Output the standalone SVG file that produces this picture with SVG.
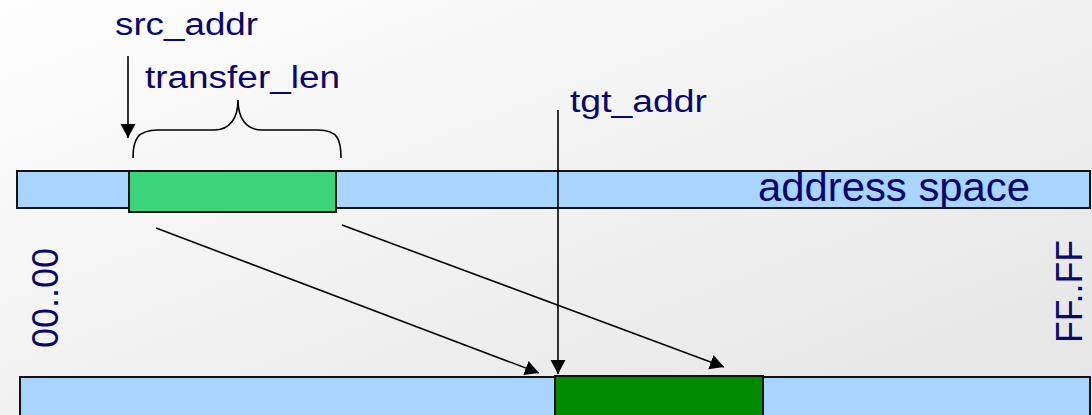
<svg xmlns="http://www.w3.org/2000/svg" width="1092" height="415" viewBox="0 0 1092 415">
  <style>
    .lbl { font-family: "Liberation Sans", Arial, sans-serif; fill: #07076e; }
    .bar { fill: #a8d4fd; stroke: #111; stroke-width: 2; }
    .line { stroke: #000; stroke-width: 1.6; fill: none; }
  </style>
  <defs>
    <linearGradient id="bg" x1="0" y1="0" x2="1" y2="1">
      <stop offset="0" stop-color="#fefefe"/>
      <stop offset="1" stop-color="#e4e4e4"/>
    </linearGradient>
    <marker id="head" markerUnits="userSpaceOnUse" markerWidth="16" markerHeight="16" refX="14" refY="7.5" orient="auto">
      <path d="M0,0 L14,7.5 L0,15 z" fill="#000"/>
    </marker>
  </defs>

  <rect x="0" y="0" width="1092" height="415" fill="url(#bg)"/>

  <!-- source address space -->
  <g id="src-space">
    <rect class="bar" x="17" y="171" width="1073" height="37"/>
    <text class="lbl" x="758" y="201" font-size="40" textLength="272" lengthAdjust="spacingAndGlyphs">address space</text>
  </g>
  <g id="src-block">
    <rect x="129" y="171" width="207" height="41" fill="#3bd47a" stroke="#111" stroke-width="2"/>
  </g>

  <!-- target address space -->
  <g id="tgt-space">
    <rect class="bar" x="20" y="377" width="1070" height="60"/>
  </g>
  <g id="tgt-block">
    <rect x="555" y="376" width="208" height="60" fill="#008a00" stroke="#111" stroke-width="2"/>
  </g>

  <!-- labels -->
  <g id="src-addr-label">
    <text class="lbl" x="115" y="35" font-size="31" textLength="143" lengthAdjust="spacingAndGlyphs">src_addr</text>
  </g>
  <g id="transfer-len-label">
    <text class="lbl" x="145" y="88" font-size="31" textLength="195" lengthAdjust="spacingAndGlyphs">transfer_len</text>
    <path class="line" d="M133,158 C133,140 137,130 158,130 L214,130 C230,130 238,118 238,100 C238,118 246,130 262,130 L318,130 C338,130 341,140 341,158"/>
  </g>
  <g id="tgt-addr-label">
    <text class="lbl" x="570" y="112" font-size="31" textLength="137" lengthAdjust="spacingAndGlyphs">tgt_addr</text>
  </g>
  <g id="range-start">
    <text class="lbl" transform="translate(58,348) rotate(-90)" font-size="37" textLength="100" lengthAdjust="spacingAndGlyphs">00..00</text>
  </g>
  <g id="range-end">
    <text class="lbl" transform="translate(1082,343) rotate(-90)" font-size="37" textLength="103" lengthAdjust="spacingAndGlyphs">FF..FF</text>
  </g>

  <!-- connectors -->
  <g id="connectors">
    <line class="line" x1="128" y1="56" x2="128" y2="138" marker-end="url(#head)"/>
    <line class="line" x1="558" y1="110" x2="558" y2="374" marker-end="url(#head)"/>
    <line class="line" x1="156" y1="228" x2="539" y2="373" marker-end="url(#head)"/>
    <line class="line" x1="342" y1="225" x2="724" y2="367" marker-end="url(#head)"/>
  </g>
</svg>
